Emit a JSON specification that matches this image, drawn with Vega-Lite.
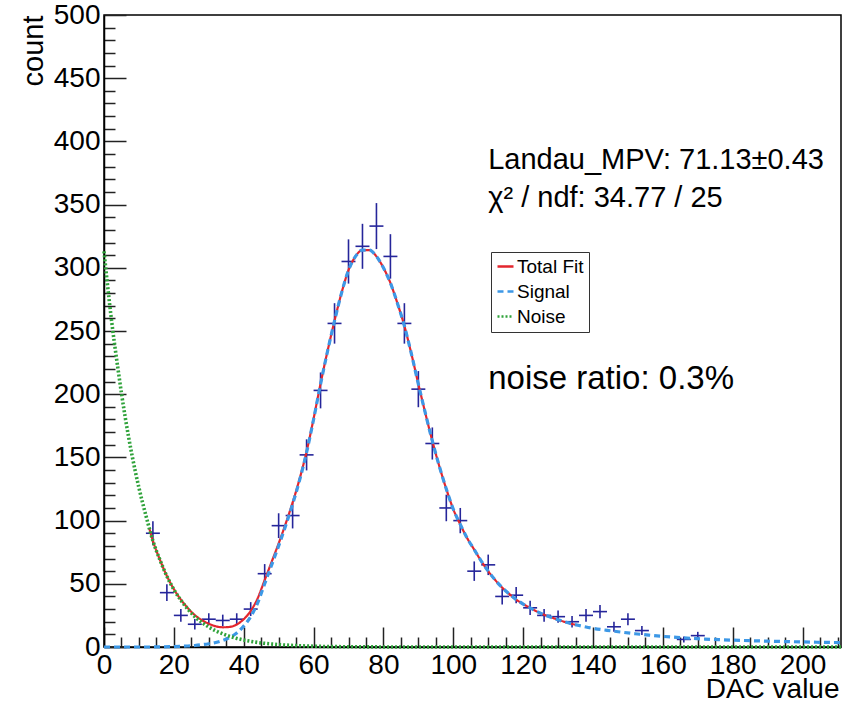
{
  "$schema": "https://vega.github.io/schema/vega-lite/v6.json",
  "width": 737,
  "height": 632,
  "autosize": "none",
  "padding": {"left": 104, "top": 15, "right": 4, "bottom": 57},
  "background": "white",
  "config": {
    "view": {"stroke": "black", "strokeWidth": 1.5},
    "font": "Liberation Sans"
  },
  "datasets": {
    "pts": [
      {"x": 14, "lo": 12, "hi": 16, "n": 90, "nlo": 80.5, "nhi": 99.5},
      {"x": 18, "lo": 16, "hi": 20, "n": 43, "nlo": 36.4, "nhi": 49.6},
      {"x": 22, "lo": 20, "hi": 24, "n": 25, "nlo": 20, "nhi": 30},
      {"x": 26, "lo": 24, "hi": 28, "n": 18, "nlo": 13.8, "nhi": 22.2},
      {"x": 30, "lo": 28, "hi": 32, "n": 22, "nlo": 17.3, "nhi": 26.7},
      {"x": 34, "lo": 32, "hi": 36, "n": 21, "nlo": 16.4, "nhi": 25.6},
      {"x": 38, "lo": 36, "hi": 40, "n": 22, "nlo": 17.3, "nhi": 26.7},
      {"x": 42, "lo": 40, "hi": 44, "n": 30, "nlo": 24.5, "nhi": 35.5},
      {"x": 46, "lo": 44, "hi": 48, "n": 58, "nlo": 50.4, "nhi": 65.6},
      {"x": 50, "lo": 48, "hi": 52, "n": 96, "nlo": 86.2, "nhi": 105.8},
      {"x": 54, "lo": 52, "hi": 56, "n": 104, "nlo": 93.8, "nhi": 114.2},
      {"x": 58, "lo": 56, "hi": 60, "n": 152, "nlo": 139.7, "nhi": 164.3},
      {"x": 62, "lo": 60, "hi": 64, "n": 203, "nlo": 188.8, "nhi": 217.2},
      {"x": 66, "lo": 64, "hi": 68, "n": 256, "nlo": 240, "nhi": 272},
      {"x": 70, "lo": 68, "hi": 72, "n": 305, "nlo": 287.5, "nhi": 322.5},
      {"x": 74, "lo": 72, "hi": 76, "n": 317, "nlo": 299.2, "nhi": 334.8},
      {"x": 78, "lo": 76, "hi": 80, "n": 333, "nlo": 314.8, "nhi": 351.2},
      {"x": 82, "lo": 80, "hi": 84, "n": 309, "nlo": 291.4, "nhi": 326.6},
      {"x": 86, "lo": 84, "hi": 88, "n": 256, "nlo": 240, "nhi": 272},
      {"x": 90, "lo": 88, "hi": 92, "n": 204, "nlo": 189.7, "nhi": 218.3},
      {"x": 94, "lo": 92, "hi": 96, "n": 161, "nlo": 148.3, "nhi": 173.7},
      {"x": 98, "lo": 96, "hi": 100, "n": 110, "nlo": 99.5, "nhi": 120.5},
      {"x": 102, "lo": 100, "hi": 104, "n": 100, "nlo": 90, "nhi": 110},
      {"x": 106, "lo": 104, "hi": 108, "n": 60, "nlo": 52.3, "nhi": 67.7},
      {"x": 110, "lo": 108, "hi": 112, "n": 65, "nlo": 56.9, "nhi": 73.1},
      {"x": 114, "lo": 112, "hi": 116, "n": 40, "nlo": 33.7, "nhi": 46.3},
      {"x": 118, "lo": 116, "hi": 120, "n": 41, "nlo": 34.6, "nhi": 47.4},
      {"x": 122, "lo": 120, "hi": 124, "n": 31, "nlo": 25.4, "nhi": 36.6},
      {"x": 126, "lo": 124, "hi": 128, "n": 25, "nlo": 20, "nhi": 30},
      {"x": 130, "lo": 128, "hi": 132, "n": 24, "nlo": 19.1, "nhi": 28.9},
      {"x": 134, "lo": 132, "hi": 136, "n": 20, "nlo": 15.5, "nhi": 24.5},
      {"x": 138, "lo": 136, "hi": 140, "n": 25, "nlo": 20, "nhi": 30},
      {"x": 142, "lo": 140, "hi": 144, "n": 28, "nlo": 22.7, "nhi": 33.3},
      {"x": 146, "lo": 144, "hi": 148, "n": 16, "nlo": 12, "nhi": 20},
      {"x": 150, "lo": 148, "hi": 152, "n": 22, "nlo": 17.3, "nhi": 26.7},
      {"x": 154, "lo": 152, "hi": 156, "n": 13, "nlo": 9.4, "nhi": 16.6},
      {"x": 166, "lo": 164, "hi": 168, "n": 6, "nlo": 3.6, "nhi": 8.4},
      {"x": 170, "lo": 168, "hi": 172, "n": 9, "nlo": 6, "nhi": 12}
    ],
    "curves": [
      {"series": "Total Fit", "x": 13, "y": 93.5},
      {"series": "Total Fit", "x": 14, "y": 84},
      {"series": "Total Fit", "x": 16, "y": 69.1},
      {"series": "Total Fit", "x": 18, "y": 56.2},
      {"series": "Total Fit", "x": 20, "y": 45.8},
      {"series": "Total Fit", "x": 22, "y": 37.5},
      {"series": "Total Fit", "x": 24, "y": 30.8},
      {"series": "Total Fit", "x": 26, "y": 25.2},
      {"series": "Total Fit", "x": 28, "y": 21.3},
      {"series": "Total Fit", "x": 30, "y": 18.4},
      {"series": "Total Fit", "x": 32, "y": 16.4},
      {"series": "Total Fit", "x": 34, "y": 15.6},
      {"series": "Total Fit", "x": 36, "y": 15.9},
      {"series": "Total Fit", "x": 38, "y": 17.8},
      {"series": "Total Fit", "x": 40, "y": 22},
      {"series": "Total Fit", "x": 42, "y": 28.5},
      {"series": "Total Fit", "x": 44, "y": 38.6},
      {"series": "Total Fit", "x": 46, "y": 52.9},
      {"series": "Total Fit", "x": 48, "y": 67.4},
      {"series": "Total Fit", "x": 50, "y": 81.9},
      {"series": "Total Fit", "x": 52, "y": 97.5},
      {"series": "Total Fit", "x": 54, "y": 114.3},
      {"series": "Total Fit", "x": 56, "y": 133},
      {"series": "Total Fit", "x": 58, "y": 154.6},
      {"series": "Total Fit", "x": 60, "y": 180.6},
      {"series": "Total Fit", "x": 62, "y": 208.4},
      {"series": "Total Fit", "x": 64, "y": 234.2},
      {"series": "Total Fit", "x": 66, "y": 258.1},
      {"series": "Total Fit", "x": 68, "y": 280.1},
      {"series": "Total Fit", "x": 70, "y": 298.1},
      {"series": "Total Fit", "x": 72, "y": 309},
      {"series": "Total Fit", "x": 74, "y": 314},
      {"series": "Total Fit", "x": 76, "y": 314},
      {"series": "Total Fit", "x": 78, "y": 309},
      {"series": "Total Fit", "x": 80, "y": 300},
      {"series": "Total Fit", "x": 82, "y": 288},
      {"series": "Total Fit", "x": 84, "y": 272},
      {"series": "Total Fit", "x": 86, "y": 254},
      {"series": "Total Fit", "x": 88, "y": 232},
      {"series": "Total Fit", "x": 90, "y": 208},
      {"series": "Total Fit", "x": 92, "y": 185},
      {"series": "Total Fit", "x": 94, "y": 163},
      {"series": "Total Fit", "x": 96, "y": 143},
      {"series": "Total Fit", "x": 98, "y": 125},
      {"series": "Total Fit", "x": 100, "y": 109},
      {"series": "Total Fit", "x": 102, "y": 97},
      {"series": "Total Fit", "x": 104, "y": 86},
      {"series": "Total Fit", "x": 106, "y": 77},
      {"series": "Total Fit", "x": 108, "y": 68},
      {"series": "Total Fit", "x": 110, "y": 60},
      {"series": "Total Fit", "x": 112, "y": 53},
      {"series": "Total Fit", "x": 114, "y": 47},
      {"series": "Total Fit", "x": 116, "y": 42},
      {"series": "Total Fit", "x": 118, "y": 37.5},
      {"series": "Total Fit", "x": 120, "y": 34},
      {"series": "Total Fit", "x": 122, "y": 31},
      {"series": "Total Fit", "x": 124, "y": 28},
      {"series": "Total Fit", "x": 126, "y": 25.5},
      {"series": "Total Fit", "x": 128, "y": 23.5},
      {"series": "Total Fit", "x": 130, "y": 21.5},
      {"series": "Total Fit", "x": 132, "y": 19.8},
      {"series": "Total Fit", "x": 134, "y": 18.3},
      {"series": "Total Fit", "x": 135, "y": 17.6},
      {"series": "Signal", "x": 0, "y": 0},
      {"series": "Signal", "x": 4, "y": 0},
      {"series": "Signal", "x": 8, "y": 0},
      {"series": "Signal", "x": 12, "y": 0},
      {"series": "Signal", "x": 16, "y": 0.1},
      {"series": "Signal", "x": 20, "y": 0.3},
      {"series": "Signal", "x": 24, "y": 0.8},
      {"series": "Signal", "x": 26, "y": 1.2},
      {"series": "Signal", "x": 28, "y": 1.8},
      {"series": "Signal", "x": 30, "y": 2.6},
      {"series": "Signal", "x": 32, "y": 3.6},
      {"series": "Signal", "x": 34, "y": 5.2},
      {"series": "Signal", "x": 36, "y": 7.5},
      {"series": "Signal", "x": 38, "y": 11},
      {"series": "Signal", "x": 40, "y": 16.5},
      {"series": "Signal", "x": 42, "y": 24},
      {"series": "Signal", "x": 44, "y": 35},
      {"series": "Signal", "x": 46, "y": 50},
      {"series": "Signal", "x": 48, "y": 65},
      {"series": "Signal", "x": 50, "y": 80},
      {"series": "Signal", "x": 52, "y": 96},
      {"series": "Signal", "x": 54, "y": 113},
      {"series": "Signal", "x": 56, "y": 132},
      {"series": "Signal", "x": 58, "y": 154},
      {"series": "Signal", "x": 60, "y": 180},
      {"series": "Signal", "x": 62, "y": 208},
      {"series": "Signal", "x": 64, "y": 234},
      {"series": "Signal", "x": 66, "y": 258},
      {"series": "Signal", "x": 68, "y": 280},
      {"series": "Signal", "x": 70, "y": 298},
      {"series": "Signal", "x": 72, "y": 309},
      {"series": "Signal", "x": 74, "y": 314},
      {"series": "Signal", "x": 76, "y": 314},
      {"series": "Signal", "x": 78, "y": 309},
      {"series": "Signal", "x": 80, "y": 300},
      {"series": "Signal", "x": 82, "y": 288},
      {"series": "Signal", "x": 84, "y": 272},
      {"series": "Signal", "x": 86, "y": 254},
      {"series": "Signal", "x": 88, "y": 232},
      {"series": "Signal", "x": 90, "y": 208},
      {"series": "Signal", "x": 92, "y": 185},
      {"series": "Signal", "x": 94, "y": 163},
      {"series": "Signal", "x": 96, "y": 143},
      {"series": "Signal", "x": 98, "y": 125},
      {"series": "Signal", "x": 100, "y": 109},
      {"series": "Signal", "x": 102, "y": 97},
      {"series": "Signal", "x": 104, "y": 86},
      {"series": "Signal", "x": 106, "y": 77},
      {"series": "Signal", "x": 108, "y": 68},
      {"series": "Signal", "x": 110, "y": 60},
      {"series": "Signal", "x": 112, "y": 53},
      {"series": "Signal", "x": 114, "y": 47},
      {"series": "Signal", "x": 116, "y": 42},
      {"series": "Signal", "x": 118, "y": 37.5},
      {"series": "Signal", "x": 120, "y": 34},
      {"series": "Signal", "x": 122, "y": 31},
      {"series": "Signal", "x": 124, "y": 28},
      {"series": "Signal", "x": 126, "y": 25.5},
      {"series": "Signal", "x": 128, "y": 23.5},
      {"series": "Signal", "x": 130, "y": 21.5},
      {"series": "Signal", "x": 132, "y": 19.8},
      {"series": "Signal", "x": 134, "y": 18.3},
      {"series": "Signal", "x": 136, "y": 17},
      {"series": "Signal", "x": 138, "y": 15.8},
      {"series": "Signal", "x": 140, "y": 14.8},
      {"series": "Signal", "x": 144, "y": 13.2},
      {"series": "Signal", "x": 148, "y": 11.8},
      {"series": "Signal", "x": 152, "y": 10.5},
      {"series": "Signal", "x": 156, "y": 9.4},
      {"series": "Signal", "x": 160, "y": 8.4},
      {"series": "Signal", "x": 164, "y": 7.6},
      {"series": "Signal", "x": 168, "y": 6.9},
      {"series": "Signal", "x": 172, "y": 6.3},
      {"series": "Signal", "x": 176, "y": 5.8},
      {"series": "Signal", "x": 180, "y": 5.4},
      {"series": "Signal", "x": 185, "y": 5},
      {"series": "Signal", "x": 190, "y": 4.6},
      {"series": "Signal", "x": 195, "y": 4.3},
      {"series": "Signal", "x": 200, "y": 4},
      {"series": "Signal", "x": 205, "y": 3.7},
      {"series": "Signal", "x": 211, "y": 3.5},
      {"series": "Noise", "x": 0, "y": 313},
      {"series": "Noise", "x": 2, "y": 262},
      {"series": "Noise", "x": 4, "y": 220},
      {"series": "Noise", "x": 6, "y": 183},
      {"series": "Noise", "x": 8, "y": 152},
      {"series": "Noise", "x": 10, "y": 126},
      {"series": "Noise", "x": 12, "y": 104},
      {"series": "Noise", "x": 14, "y": 84},
      {"series": "Noise", "x": 16, "y": 69},
      {"series": "Noise", "x": 18, "y": 56},
      {"series": "Noise", "x": 20, "y": 45.5},
      {"series": "Noise", "x": 22, "y": 37},
      {"series": "Noise", "x": 24, "y": 30},
      {"series": "Noise", "x": 26, "y": 24},
      {"series": "Noise", "x": 28, "y": 19.5},
      {"series": "Noise", "x": 30, "y": 15.8},
      {"series": "Noise", "x": 32, "y": 12.8},
      {"series": "Noise", "x": 34, "y": 10.4},
      {"series": "Noise", "x": 36, "y": 8.4},
      {"series": "Noise", "x": 38, "y": 6.8},
      {"series": "Noise", "x": 40, "y": 5.5},
      {"series": "Noise", "x": 42, "y": 4.5},
      {"series": "Noise", "x": 44, "y": 3.6},
      {"series": "Noise", "x": 46, "y": 2.9},
      {"series": "Noise", "x": 48, "y": 2.4},
      {"series": "Noise", "x": 50, "y": 1.9},
      {"series": "Noise", "x": 55, "y": 1.1},
      {"series": "Noise", "x": 60, "y": 0.6},
      {"series": "Noise", "x": 70, "y": 0.2},
      {"series": "Noise", "x": 80, "y": 0.05},
      {"series": "Noise", "x": 100, "y": 0},
      {"series": "Noise", "x": 211, "y": 0}
    ],
    "notes": [
      {"label": "Landau_MPV: 71.13±0.43", "lx": 110, "ly": 378, "grp": "fit"},
      {"label": "χ² / ndf: 34.77 / 25", "lx": 110, "ly": 348, "grp": "fit"},
      {"label": "noise ratio: 0.3%", "lx": 110, "ly": 204, "grp": "ratio"}
    ]
  },
  "layer": [
    {
      "data": {"name": "pts"},
      "mark": {"type": "rule", "color": "#25259a", "strokeWidth": 1.6},
      "encoding": {
        "x": {
          "field": "x", "type": "quantitative", "title": "DAC value",
          "scale": {"domain": [0, 211], "nice": false, "zero": false},
          "axis": {
            "values": [0,5,10,15,20,25,30,35,40,45,50,55,60,65,70,75,80,85,90,95,100,105,110,115,120,125,130,135,140,145,150,155,160,165,170,175,180,185,190,195,200,205,210],
            "tickCount": 500,
            "format": "d",
            "labelExpr": "datum.value % 20 === 0 ? datum.label : ''",
            "tickSize": {"condition": {"test": "datum.value % 20 === 0", "value": -20}, "value": -10},
            "labelPadding": 24,
            "labelFontSize": 28,
            "labelFont": "Liberation Sans",
            "labelColor": "black",
            "labelFlush": false,
            "labelOverlap": false,
            "tickColor": "#222222",
            "tickWidth": 1.5,
            "domainColor": "black",
            "domainWidth": 1.5,
            "grid": false,
            "title": "DAC value",
            "titleFont": "Liberation Sans",
            "titleFontSize": 28,
            "titleFontWeight": "normal",
            "titleColor": "black",
            "titleAlign": "right",
            "titleAnchor": "end",
            "titleBaseline": "alphabetic",
            "titleX": 735,
            "titleY": 50
          }
        },
        "y": {
          "field": "nlo", "type": "quantitative", "title": "count",
          "scale": {"domain": [0, 500], "nice": false, "zero": false},
          "axis": {
            "values": [0,10,20,30,40,50,60,70,80,90,100,110,120,130,140,150,160,170,180,190,200,210,220,230,240,250,260,270,280,290,300,310,320,330,340,350,360,370,380,390,400,410,420,430,440,450,460,470,480,490,500],
            "tickCount": 500,
            "format": "d",
            "labelExpr": "datum.value % 50 === 0 ? datum.label : ''",
            "tickSize": {"condition": {"test": "datum.value % 50 === 0", "value": -22}, "value": -11},
            "labelPadding": 26,
            "labelFontSize": 28,
            "labelFont": "Liberation Sans",
            "labelColor": "black",
            "labelFlush": false,
            "labelOverlap": false,
            "tickColor": "#222222",
            "tickWidth": 1.5,
            "domainColor": "black",
            "domainWidth": 1.5,
            "grid": false,
            "title": "count",
            "titleFont": "Liberation Sans",
            "titleFontSize": 29,
            "titleFontWeight": "normal",
            "titleColor": "black",
            "titleAngle": -90,
            "titleAlign": "right",
            "titleBaseline": "alphabetic",
            "titleX": -62,
            "titleY": 0
          }
        },
        "y2": {"field": "nhi"}
      }
    },
    {
      "data": {"name": "pts"},
      "mark": {"type": "rule", "color": "#25259a", "strokeWidth": 1.6},
      "encoding": {
        "x": {"field": "lo", "type": "quantitative", "title": "DAC value"},
        "x2": {"field": "hi"},
        "y": {"field": "n", "type": "quantitative", "title": "count"}
      }
    },
    {
      "data": {"name": "curves"},
      "transform": [{"filter": "datum.series === 'Total Fit'"}],
      "mark": {"type": "line", "strokeWidth": 2.2, "interpolate": "monotone"},
      "encoding": {
        "x": {"field": "x", "type": "quantitative", "title": "DAC value"},
        "y": {"field": "y", "type": "quantitative", "title": "count"},
        "color": {
          "field": "series", "type": "nominal",
          "scale": {"domain": ["Total Fit", "Signal", "Noise"], "range": ["#e3262e", "#3d98e6", "#2fa23a"]},
          "legend": {"orient": "none", "legendX": 387, "legendY": 237, "title": null, "strokeColor": "#333333", "fillColor": "white", "padding": 5, "labelFontSize": 19, "labelFont": "Liberation Sans", "labelColor": "black", "symbolType": "stroke", "symbolStrokeWidth": 2.5, "symbolSize": 256, "rowPadding": 5, "labelOffset": 2}
        },
        "strokeDash": {
          "field": "series", "type": "nominal",
          "scale": {"domain": ["Total Fit", "Signal", "Noise"], "range": [[1, 0], [6, 4], [2, 2]]},
          "legend": {"orient": "none", "legendX": 387, "legendY": 237, "title": null, "strokeColor": "#333333", "fillColor": "white", "padding": 5, "labelFontSize": 19, "labelFont": "Liberation Sans", "labelColor": "black", "symbolType": "stroke", "symbolStrokeWidth": 2.5, "symbolSize": 256, "rowPadding": 5, "labelOffset": 2}
        }
      }
    },
    {
      "data": {"name": "curves"},
      "transform": [{"filter": "datum.series === 'Signal'"}],
      "mark": {"type": "line", "strokeWidth": 3.2, "interpolate": "monotone"},
      "encoding": {
        "x": {"field": "x", "type": "quantitative", "title": "DAC value"},
        "y": {"field": "y", "type": "quantitative", "title": "count"},
        "color": {"field": "series", "type": "nominal"},
        "strokeDash": {"field": "series", "type": "nominal"}
      }
    },
    {
      "data": {"name": "curves"},
      "transform": [{"filter": "datum.series === 'Noise'"}],
      "mark": {"type": "line", "strokeWidth": 3.6, "interpolate": "monotone"},
      "encoding": {
        "x": {"field": "x", "type": "quantitative", "title": "DAC value"},
        "y": {"field": "y", "type": "quantitative", "title": "count"},
        "color": {"field": "series", "type": "nominal"},
        "strokeDash": {"field": "series", "type": "nominal"}
      }
    },
    {
      "data": {"name": "notes"},
      "transform": [{"filter": "datum.grp === 'fit'"}],
      "mark": {"type": "text", "align": "left", "baseline": "alphabetic", "fontSize": 29, "font": "Liberation Sans", "color": "black"},
      "encoding": {
        "x": {"field": "lx", "type": "quantitative", "title": "DAC value"},
        "y": {"field": "ly", "type": "quantitative", "title": "count"},
        "text": {"field": "label"}
      }
    },
    {
      "data": {"name": "notes"},
      "transform": [{"filter": "datum.grp === 'ratio'"}],
      "mark": {"type": "text", "align": "left", "baseline": "alphabetic", "fontSize": 33, "font": "Liberation Sans", "color": "black"},
      "encoding": {
        "x": {"field": "lx", "type": "quantitative", "title": "DAC value"},
        "y": {"field": "ly", "type": "quantitative", "title": "count"},
        "text": {"field": "label"}
      }
    }
  ]
}
